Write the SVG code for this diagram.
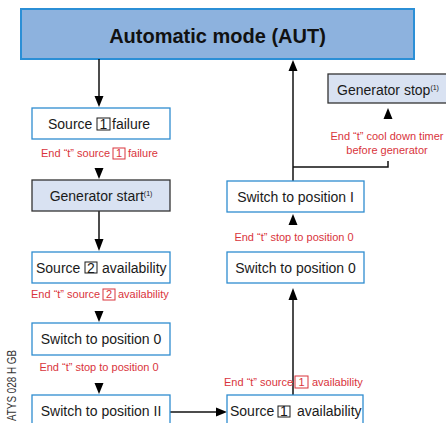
<svg xmlns="http://www.w3.org/2000/svg" width="446" height="423" viewBox="0 0 446 423">
<defs>
<style>
.bx{fill:#ffffff;stroke:#2f8dd0;stroke-width:1.3}
.gx{fill:#d9e2f2;stroke:#333333;stroke-width:1.3}
.t{font-family:"Liberation Sans",Arial,sans-serif;font-size:14px;fill:#1a1a1a}
.r{font-family:"Liberation Sans",Arial,sans-serif;font-size:11px;fill:#d9343c}
.sup{font-size:7px}
.nb{fill:none;stroke:#1a1a1a;stroke-width:1}
.nr{fill:none;stroke:#d9343c;stroke-width:1}
.ln{fill:none;stroke:#111111;stroke-width:1.5}
.ah{fill:#000000}
</style>
</defs>
<rect width="446" height="423" fill="#ffffff"/>

<g id="aut">
<rect x="21" y="9" width="393" height="50" fill="#8db2de" stroke="#2b8fd6" stroke-width="2"/>
<text x="217.5" y="43" text-anchor="middle" font-family="'Liberation Sans',Arial,sans-serif" font-size="20" font-weight="bold" fill="#111">Automatic mode (AUT)</text>
</g>

<g id="connectors">
<line class="ln" x1="99" y1="59" x2="99" y2="97"/>
<polygon class="ah" points="94.5,96 103.5,96 99,107"/>
<polygon class="ah" points="94.5,168 103.5,168 99,179"/>
<line class="ln" x1="99" y1="211" x2="99" y2="240"/>
<polygon class="ah" points="94.5,239 103.5,239 99,251"/>
<polygon class="ah" points="94.5,311 103.5,311 99,322"/>
<polygon class="ah" points="94.5,383 103.5,383 99,394"/>
<line class="ln" x1="170" y1="412" x2="217" y2="412"/>
<polygon class="ah" points="216,407.5 216,416.5 227,412"/>
<line class="ln" x1="293" y1="395" x2="293" y2="298"/>
<polygon class="ah" points="288.5,300 297.5,300 293,288"/>
<polygon class="ah" points="288.5,225 297.5,225 293,214"/>
<line class="ln" x1="293" y1="181" x2="293" y2="70"/>
<polygon class="ah" points="288.5,71 297.5,71 293,60"/>
<polyline class="ln" points="293,167 388,167 388,161"/>
<polygon class="ah" points="383.5,119 392.5,119 388,108"/>
</g>

<g id="source1-failure">
<rect class="bx" x="32" y="108" width="138" height="31"/>
<text class="t" x="48" y="128.5">Source</text>
<rect class="nb" x="97" y="118" width="13" height="12"/>
<text class="t" x="103.5" y="128.5" text-anchor="middle">1</text>
<text class="t" x="112" y="128.5">failure</text>
</g>
<g id="label-s1-failure">
<text class="r" x="41" y="157">End “t” source</text>
<rect class="nr" x="113" y="148" width="12" height="11"/>
<text class="r" x="119" y="157" text-anchor="middle">1</text>
<text class="r" x="128" y="157">failure</text>
</g>

<g id="generator-start">
<rect class="gx" x="32" y="180" width="138" height="31"/>
<text class="t" x="101" y="200.5" text-anchor="middle">Generator start<tspan class="sup" dy="-5">(1)</tspan></text>
</g>

<g id="source2-availability">
<rect class="bx" x="32" y="252" width="138" height="31"/>
<text class="t" x="36" y="272.5">Source</text>
<rect class="nb" x="85" y="262" width="12" height="11"/>
<text class="t" x="91" y="272.5" text-anchor="middle">2</text>
<text class="t" x="102" y="272.5">availability</text>
</g>
<g id="label-s2-availability">
<text class="r" x="31" y="298">End “t” source</text>
<rect class="nr" x="103" y="289" width="12" height="11"/>
<text class="r" x="109" y="298" text-anchor="middle">2</text>
<text class="r" x="118" y="298">availability</text>
</g>

<g id="switch-0-left">
<rect class="bx" x="32" y="323" width="138" height="32"/>
<text class="t" x="101" y="344" text-anchor="middle">Switch to position 0</text>
</g>
<g id="label-stop0-left">
<text class="r" x="99" y="371" text-anchor="middle">End “t” stop to position 0</text>
</g>

<g id="switch-II">
<rect class="bx" x="32" y="395" width="138" height="32"/>
<text class="t" x="101" y="416" text-anchor="middle">Switch to position II</text>
</g>

<g id="source1-availability">
<rect class="bx" x="227" y="395" width="136" height="32"/>
<text class="t" x="230" y="416">Source</text>
<rect class="nb" x="278" y="406" width="12" height="11"/>
<text class="t" x="284" y="416" text-anchor="middle">1</text>
<text class="t" x="297" y="416">availability</text>
</g>
<g id="label-s1-availability">
<text class="r" x="224" y="386">End “t” source</text>
<rect class="nr" x="295" y="376" width="13" height="12"/>
<text class="r" x="301.5" y="386" text-anchor="middle">1</text>
<text class="r" x="312" y="386">availability</text>
</g>

<g id="switch-0-right">
<rect class="bx" x="227" y="252" width="137" height="31"/>
<text class="t" x="295.5" y="272.5" text-anchor="middle">Switch to position 0</text>
</g>
<g id="label-stop0-right">
<text class="r" x="294" y="241" text-anchor="middle">End “t” stop to position 0</text>
</g>

<g id="switch-I">
<rect class="bx" x="227" y="181" width="137" height="31"/>
<text class="t" x="295.5" y="201.5" text-anchor="middle">Switch to position I</text>
</g>

<g id="label-cooldown">
<text class="r" x="387" y="140" text-anchor="middle">End “t” cool down timer</text>
<text class="r" x="387" y="154" text-anchor="middle">before generator</text>
</g>

<g id="generator-stop">
<rect class="gx" x="328" y="74" width="125" height="29"/>
<text class="t" x="337" y="95">Generator stop<tspan class="sup" dy="-5">(1)</tspan></text>
</g>

<text x="16" y="421" transform="rotate(-90 16 421)" font-family="'Liberation Sans',Arial,sans-serif" font-size="12" fill="#333" textLength="71" lengthAdjust="spacingAndGlyphs">ATYS 028 H GB</text>
</svg>
